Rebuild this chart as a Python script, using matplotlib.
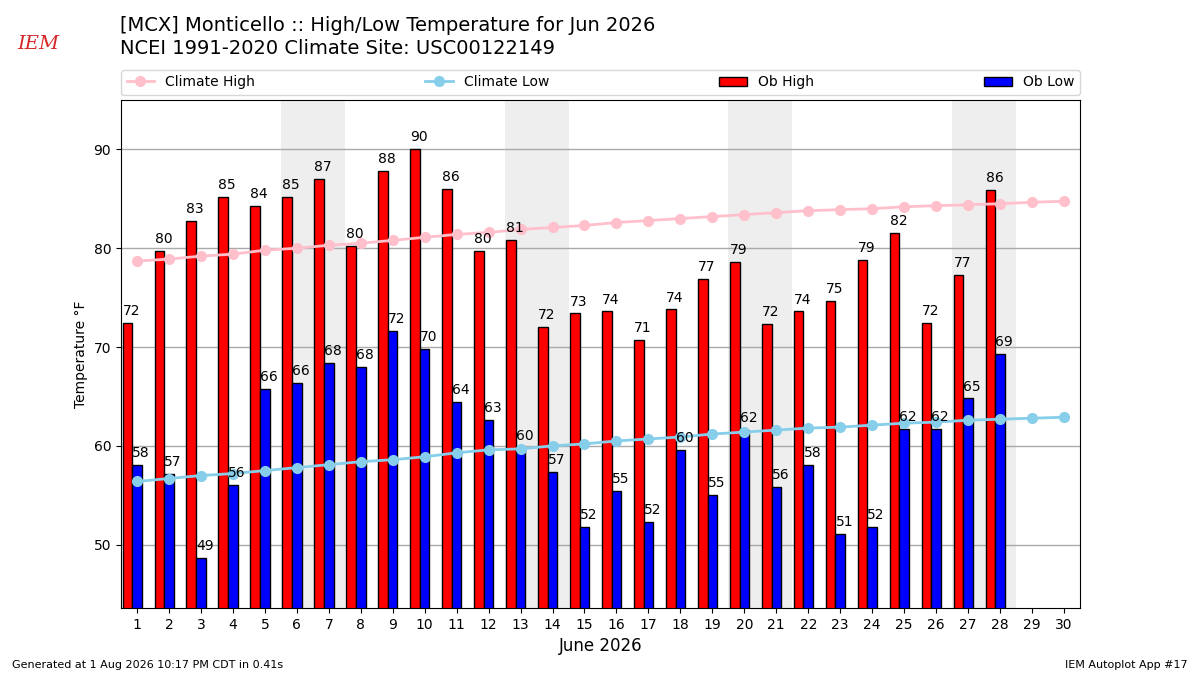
import numpy as np
from matplotlib import pyplot as plt
from matplotlib.patches import Patch
from matplotlib.lines import Line2D

# June 2026 daily obs (deg F)
days = np.arange(1, 31)
ob_high = [72.4, 79.7, 82.8, 85.2, 84.3, 85.2, 87.0, 80.2, 87.8, 90.0,
           86.0, 79.7, 80.8, 72.0, 73.4, 73.6, 70.7, 73.8, 76.9, 78.6,
           72.3, 73.6, 74.7, 78.8, 81.5, 72.4, 77.3, 85.9]
ob_low = [58.05, 57.2, 48.65, 56.06, 65.8, 66.4, 68.4, 68.0, 71.6, 69.8,
          64.4, 62.6, 59.8, 57.4, 51.8, 55.4, 52.3, 59.6, 55.0, 61.6,
          55.8, 58.05, 51.1, 51.8, 61.7, 61.7, 64.8, 69.3]
clim_high = [78.7, 78.9, 79.2, 79.4, 79.8, 80.0, 80.3, 80.5, 80.8, 81.1,
             81.4, 81.6, 81.9, 82.1, 82.3, 82.6, 82.8, 83.0, 83.2, 83.4,
             83.6, 83.8, 83.9, 84.0, 84.2, 84.3, 84.4, 84.5, 84.65, 84.75]
clim_low = [56.4, 56.7, 57.0, 57.2, 57.5, 57.8, 58.1, 58.4, 58.6, 58.9,
            59.3, 59.6, 59.7, 60.0, 60.2, 60.5, 60.7, 60.9, 61.2, 61.4,
            61.6, 61.8, 61.9, 62.1, 62.3, 62.4, 62.6, 62.7, 62.8, 62.9]
weekends = [6, 7, 13, 14, 20, 21, 27, 28]

fig = plt.figure(figsize=(12, 6.75), dpi=100)
ax = fig.add_axes([0.1008, 0.0993, 0.7992, 0.7526])

for d in weekends:
    ax.axvspan(d - 0.5, d + 0.5, color="#eeeeee", zorder=0, lw=0)

obd = days[: len(ob_high)]
ax.bar(obd - 0.3, ob_high, width=0.3, color="r", edgecolor="k", lw=1, zorder=2)
ax.bar(obd, ob_low, width=0.3, color="b", edgecolor="k", lw=1, zorder=2)

for d, hi, lo in zip(obd, ob_high, ob_low):
    ax.text(d - 0.45, hi + 0.5, f"{hi:.0f}", ha="left", va="bottom",
            fontsize=10, zorder=4)
    ax.text(d - 0.15, lo + 0.5, f"{lo:.0f}", ha="left", va="bottom",
            fontsize=10, zorder=4)

ax.plot(days, clim_high, color="pink", marker="o", ms=7, lw=2, zorder=3)
ax.plot(days, clim_low, color="skyblue", marker="o", ms=7, lw=2, zorder=3)

ax.set_xlim(0.5, 30.5)
ax.set_ylim(43.6, 95)
ax.set_xticks(days)
ax.set_yticks([50, 60, 70, 80, 90])
ax.grid(axis="y", color="#aaaaaa", lw=1, zorder=1)
ax.set_axisbelow(True)
ax.set_xlabel("June 2026", fontsize=12)
ax.set_ylabel("Temperature \N{DEGREE SIGN}F")

handles = [
    Line2D([], [], color="pink", marker="o", ms=7, lw=2),
    Line2D([], [], color="skyblue", marker="o", ms=7, lw=2),
    Patch(facecolor="r", edgecolor="k"),
    Patch(facecolor="b", edgecolor="k"),
]
ax.legend(handles, ["Climate High", "Climate Low", "Ob High", "Ob Low"],
          ncol=4, mode="expand", loc="lower left", borderaxespad=0,
          bbox_to_anchor=(0, 1.01, 1, 0.05), fontsize=10)

fig.text(0.1, 0.977, "[MCX] Monticello :: High/Low Temperature for Jun 2026\n"
         "NCEI 1991-2020 Climate Site: USC00122149",
         fontsize=14, va="top", ha="left", linespacing=1.3)
fig.text(0.032, 0.935, "IEM", color="#d62728", fontsize=14, style="italic",
         family="DejaVu Serif", ha="center", va="center")
fig.text(0.01, 0.008, "Generated at 1 Aug 2026 10:17 PM CDT in 0.41s",
         fontsize=8, ha="left", va="bottom")
fig.text(0.99, 0.008, "IEM Autoplot App #17", fontsize=8,
         ha="right", va="bottom")

fig.savefig("out.png")
